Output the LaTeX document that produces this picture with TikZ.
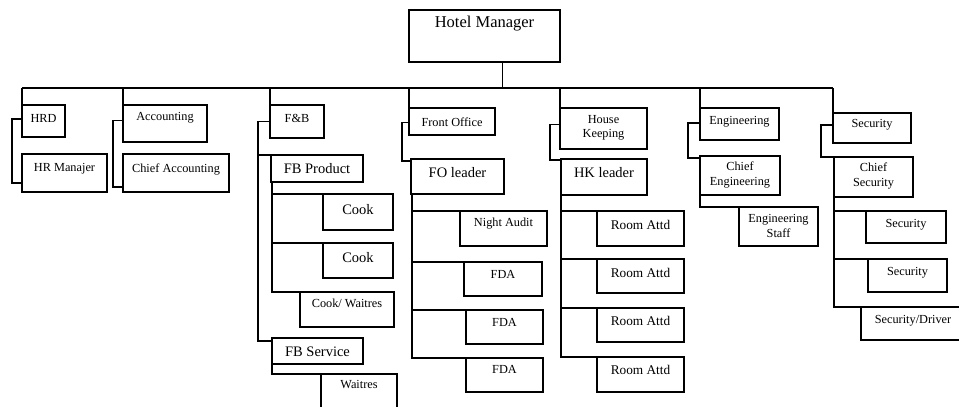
\documentclass[tikz,border=0pt]{standalone}
\usepackage{fontspec}
\setmainfont{Liberation Serif}
\tikzset{
  bxs/.style={draw, line width=1.1pt, inner sep=0pt, outer sep=0pt},
  cn/.style={line width=1.5pt},
  busln/.style={line width=1.2pt},
  tH/.style={font=\fontsize{16.5}{18}\selectfont, inner sep=0pt, align=center},
  tL/.style={font=\fontsize{14.5}{16}\selectfont, inner sep=0pt, align=center},
  tM/.style={font=\fontsize{13.3}{15}\selectfont, inner sep=0pt, align=center},
  tS/.style={font=\fontsize{12.3}{14.5}\selectfont, inner sep=0pt, align=center}
}
\newcommand\bx[8]{%
  \node[bxs, minimum width={(#4-#2)*1pt}, minimum height={(#5-#3)*1pt}] (#1) at ({(#2+#4)/2},{(#3+#5)/2}) {};
  \node[#7] (#1t) at ({(#2+#4)/2},#6) {#8};}
\begin{document}
\begin{tikzpicture}[x=1pt,y=-1pt]
\useasboundingbox (0,0) rectangle (959,407);
\clip (0,0) rectangle (959,407);
% top
\bx{hm}{409}{10}{560}{62}{24}{tH}{Hotel Manager}
% column 1
\bx{hrd}{22}{105}{65}{137}{118}{tS}{HRD}
\bx{hrm}{22}{154}{107}{192}{169}{tS}{HR Manajer}
% column 2
\bx{acc}{123}{105}{207}{142}{118}{tS}{Accounting}
\bx{cha}{123}{154}{229}{192}{169}{tS}{Chief Accounting}
% column 3
\bx{fb}{270}{105}{324}{138}{118}{tS}{F\&B}
\bx{fbp}{271}{155}{363}{182}{169}{tL}{FB Product}
\bx{ckA}{323}{194}{393}{230}{210}{tL}{Cook}
\bx{ckB}{323}{243}{393}{278}{258}{tL}{Cook}
\bx{cw}{300}{292}{394}{327}{303}{tS}{Cook/ Waitres}
\bx{fbs}{272}{338}{363}{364}{352}{tL}{FB Service}
\bx{wt}{321}{374}{397}{415}{385}{tS}{Waitres}
% column 4
\bx{fo}{409}{108}{495}{135}{122}{tS}{Front Office}
\bx{fol}{411}{159}{504}{194}{173}{tL}{FO leader}
\bx{na}{460}{211}{547}{246}{224}{tS}{Night Audit}
\bx{fdaA}{464}{262}{542}{296}{274}{tS}{FDA}
\bx{fdaB}{466}{310}{543}{344}{322}{tS}{FDA}
\bx{fdaC}{466}{358}{543}{392}{369}{tS}{FDA}
% column 5
\bx{hk}{560}{108}{647}{149}{128}{tS}{House\\Keeping}
\bx{hkl}{561}{159}{647}{195}{173}{tL}{HK leader}
\bx{raA}{597}{211}{684}{246}{225}{tM}{Room Attd}
\bx{raB}{597}{259}{684}{293}{273}{tM}{Room Attd}
\bx{raC}{597}{308}{684}{342}{321}{tM}{Room Attd}
\bx{raD}{597}{357}{684}{392}{370}{tM}{Room Attd}
% column 6
\bx{eng}{700}{108}{779}{140}{122}{tS}{Engineering}
\bx{ceng}{700}{156}{780}{195}{175}{tS}{Chief\\Engineering}
\bx{estf}{739}{207}{818}{246}{226}{tS}{Engineering\\Staff}
% column 7
\bx{sec}{833}{113}{911}{143}{125}{tS}{Security}
\bx{csec}{834}{157}{913}{197}{176}{tS}{Chief\\Security}
\bx{secA}{866}{211}{946}{243}{225}{tS}{Security}
\bx{secB}{868}{259}{947}{292}{273}{tS}{Security}
\bx{secD}{861}{307}{965}{340}{321}{tS}{Security/Driver}
% bus
\coordinate (hmdrop) at ([xshift=18pt]hm.south);
\coordinate (bj) at ([yshift=-26pt]hmdrop);
\draw[busln] (hmdrop) -- (bj);
\draw[busln] (hrd.north west |- bj) -- (sec.north west |- bj);
\foreach \n in {hrd,acc,fb,fo,hk,eng,sec}{
  \draw[busln] (\n.north west |- bj) -- (\n.north west);
}
% column 1 connectors
\draw[cn] ([yshift=2pt]hrd.west) -- ++(-10,0) |- ([yshift=9pt]hrm.south west);
% column 2
\draw[cn] ([yshift=3pt]acc.west) -- ++(-10,0) |- ([yshift=5pt]cha.south west);
% column 3
\coordinate (fbtr) at ([xshift=-12pt]fb.west);
\draw[cn] (fb.west) -- (fbtr) |- ([yshift=-3pt]fbs.north west);
\draw[cn] (fbtr |- fbp.north west) -- (fbp.north west);
\draw[cn] ([xshift=1pt]fbp.south west) |- (cw.north west);
\draw[cn] ([xshift=1pt]fbp.south west |- ckA.north west) -- (ckA.north west);
\draw[cn] ([xshift=1pt]fbp.south west |- ckB.north west) -- (ckB.north west);
\draw[cn] (fbs.south west) |- (wt.north west);
% column 4
\draw[cn] ([yshift=-1pt]fo.west) -- ++(-7,0) |- ([yshift=-2pt]fol.north west);
\draw[cn] ([xshift=1pt]fol.south west) |- (fdaC.north west);
\foreach \n in {na,fdaA,fdaB}{
  \draw[cn] ([xshift=1pt]fol.south west |- \n.north west) -- (\n.north west);
}
% column 5
\draw[cn] ([yshift=4pt]hk.west) -- ++(-10,0) |- ([yshift=-1pt]hkl.north west);
\draw[cn] (hkl.south west) |- (raD.north west);
\foreach \n in {raA,raB,raC}{
  \draw[cn] (hkl.south west |- \n.north west) -- (\n.north west);
}
% column 6
\draw[cn] ([yshift=1pt]eng.west) -- ++(-12,0) |- ([yshift=-2pt]ceng.north west);
\draw[cn] (ceng.south west) |- (estf.north west);
% column 7
\draw[cn] ([yshift=3pt]sec.west) -- ++(-12,0) |- (csec.north west);
\draw[cn] (csec.south west) |- (secD.north west);
\foreach \n in {secA,secB}{
  \draw[cn] (csec.south west |- \n.north west) -- (\n.north west);
}
\end{tikzpicture}
\end{document}
